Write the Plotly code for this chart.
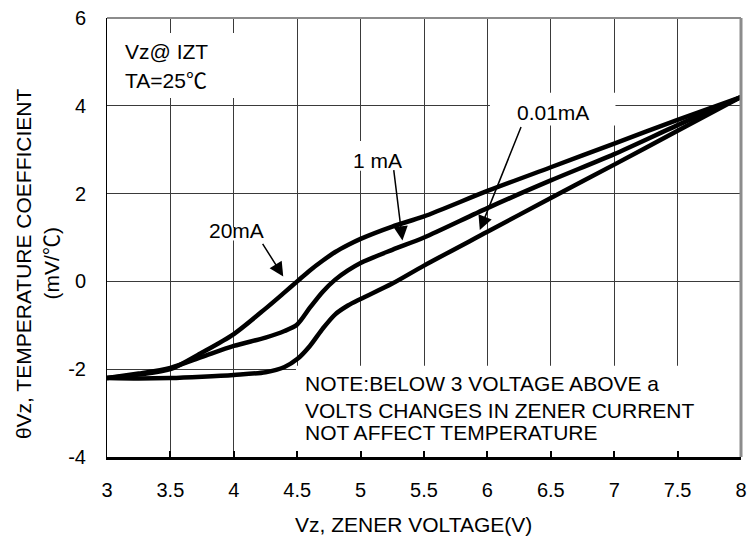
import plotly.graph_objects as go

# ---- data ----
vz = [3.0, 3.25, 3.5, 3.75, 4.0, 4.25, 4.4, 4.5, 4.6, 4.7, 4.8, 4.9, 5.0, 5.25, 5.5, 6.0, 6.5, 7.0, 7.5, 8.0]
tc_20mA = [-2.2, -2.12, -2.0, -1.62, -1.2, -0.62, -0.25, 0.0, 0.25, 0.47, 0.67, 0.83, 0.97, 1.25, 1.48, 2.06, 2.6, 3.14, 3.68, 4.2]
tc_1mA = [-2.2, -2.1, -1.97, -1.72, -1.47, -1.28, -1.13, -0.98, -0.6, -0.24, 0.04, 0.25, 0.42, 0.72, 1.0, 1.67, 2.3, 2.9, 3.56, 4.2]
tc_001mA = [-2.2, -2.21, -2.2, -2.17, -2.13, -2.07, -1.95, -1.77, -1.47, -1.08, -0.75, -0.55, -0.4, -0.05, 0.36, 1.13, 1.9, 2.66, 3.43, 4.2]

x_ticks = [3, 3.5, 4, 4.5, 5, 5.5, 6, 6.5, 7, 7.5, 8]
x_tick_labels = ["3", "3.5", "4", "4.5", "5", "5.5", "6", "6.5", "7", "7.5", "8"]
y_ticks = [-4, -2, 0, 2, 4, 6]
y_tick_labels = ["-4", "-2", "0", "2", "4", "6"]

FONT = "Liberation Sans, Arial, sans-serif"
DEG_C = '<span style="font-family:\'Noto Sans CJK JP\'">℃</span>'

fig = go.Figure()
for ys in (tc_20mA, tc_1mA, tc_001mA):
    fig.add_trace(go.Scatter(x=vz, y=ys, mode="lines",
                             line=dict(color="black", width=4.5, shape="spline", smoothing=0.8),
                             showlegend=False, hoverinfo="skip"))

# white boxes that hide gridlines behind texts
boxes = [
    (3.0, 4.12, 4.18, 5.66),
    (3.80, 4.23, 0.93, 1.23),
    (4.94, 5.34, 2.52, 3.2),
    (6.02, 7.01, 3.55, 4.3),
    (4.49, 8.0, -4.0, -1.92),
]
shapes = []
for x0, x1, y0, y1 in boxes:
    shapes.append(dict(type="rect", xref="x", yref="y", x0=x0, x1=x1, y0=y0, y1=y1,
                       fillcolor="white", line=dict(width=0), layer="between"))
# top and right borders (gray)
shapes.append(dict(type="line", xref="paper", yref="paper", x0=0, x1=1, y0=1, y1=1,
                   line=dict(color="#8c8c8c", width=2), layer="above"))
shapes.append(dict(type="line", xref="paper", yref="paper", x0=1, x1=1, y0=0, y1=1,
                   line=dict(color="#8c8c8c", width=3), layer="above"))

ann = []
def txt(x, y, s, xanchor="center", size=21):
    ann.append(dict(x=x, y=y, xref="x", yref="y", text=s, showarrow=False,
                    xanchor=xanchor, yanchor="middle", font=dict(family=FONT, size=size, color="black")))

txt(3.125, 5.23, "Vz@ IZT", "left")
txt(3.125, 4.61, "TA=25" + DEG_C, "left")
txt(4.02, 1.16, "20mA")
txt(5.137, 2.75, "1 mA")
txt(6.516, 3.84, "0.01mA")
txt(4.547, -2.32, "NOTE:BELOW 3 VOLTAGE ABOVE a", "left")
txt(4.547, -2.93, "VOLTS CHANGES IN ZENER CURRENT", "left")
txt(4.547, -3.44, "NOT AFFECT TEMPERATURE", "left")

arrows = [
    ((4.39, 0.11), (4.22, 0.89)),
    ((5.33, 0.93), (5.26, 2.57)),
    ((5.94, 1.17), (6.27, 3.55)),
]
for (tx, ty), (sx, sy) in arrows:
    ann.append(dict(x=tx, y=ty, ax=sx, ay=sy, xref="x", yref="y", axref="x", ayref="y",
                    text="", showarrow=True, arrowhead=2, arrowsize=1.9, arrowwidth=1.5,
                    arrowcolor="black"))

# axis titles
ann.append(dict(x=0.4836, y=-0.153, xref="paper", yref="paper", text="Vz, ZENER VOLTAGE(V)",
                showarrow=False, xanchor="center", yanchor="middle",
                font=dict(family=FONT, size=21, color="black")))
ann.append(dict(x=-0.1305, y=0.44, xref="paper", yref="paper", text="θVz, TEMPERATURE COEFFICIENT",
                showarrow=False, xanchor="center", yanchor="middle", textangle=-90,
                font=dict(family=FONT, size=21, color="black")))
ann.append(dict(x=-0.0906, y=0.44, xref="paper", yref="paper", text="(mV/" + DEG_C + ")",
                showarrow=False, xanchor="center", yanchor="middle", textangle=-90,
                font=dict(family=FONT, size=21, color="black")))

fig.update_layout(
    width=754, height=537,
    margin=dict(l=107, r=7, t=16, b=80),
    paper_bgcolor="white", plot_bgcolor="white",
    shapes=shapes, annotations=ann,
    xaxis=dict(range=[3, 8], tickvals=x_ticks, ticktext=x_tick_labels,
               showgrid=True, gridcolor="#3a3a3a", gridwidth=1, zeroline=False,
               showline=True, linecolor="black", linewidth=3,
               ticks="inside", ticklen=6, tickwidth=2, tickcolor="black",
               ticklabelstandoff=13,
               tickfont=dict(family=FONT, size=20, color="black")),
    yaxis=dict(range=[-4, 6], tickvals=y_ticks, ticktext=y_tick_labels,
               showgrid=True, gridcolor="#3a3a3a", gridwidth=1, zeroline=False,
               showline=True, linecolor="black", linewidth=1,
               ticks="", ticklabelstandoff=16,
               tickfont=dict(family=FONT, size=20, color="black")),
)

fig.write_html("out.html", config={"displayModeBar": False},
               post_script="document.body.style.margin='0';document.body.style.padding='0';")
